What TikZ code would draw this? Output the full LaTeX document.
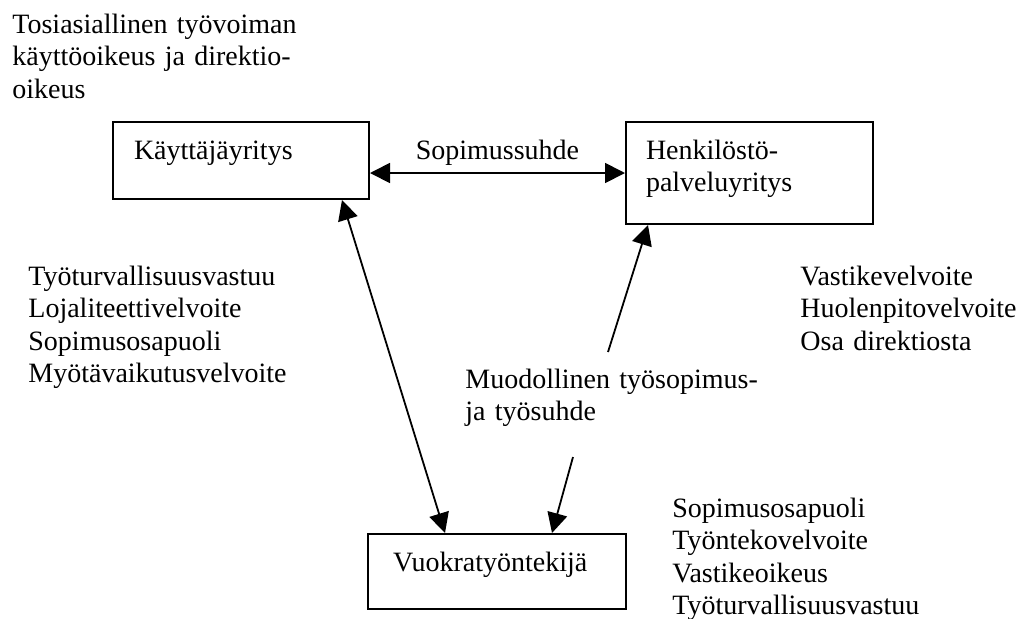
\documentclass[tikz,border=0pt]{standalone}
\usepackage{fontspec}
\setmainfont{Liberation Serif}
\usetikzlibrary{arrows.meta}

\begin{document}
\begin{tikzpicture}[
    x=0.5pt, y=-0.5pt,
    font=\fontsize{14}{16.25}\selectfont,
    laatikko/.style = {draw, line width=1pt, anchor=north west, align=left, inner ysep=0pt, text height=18.5pt},
    teksti/.style = {anchor=base west, align=left, inner sep=0pt, text width=180pt},
    nuoli/.style = {-{Triangle[length=10pt, width=10pt]}, line width=0.9pt},
    kaksi/.style = {{Triangle[length=10pt, width=10pt]}-{Triangle[length=10pt, width=10pt]}, line width=0.9pt}
]
    \useasboundingbox (0,0) rectangle (1024,618);

    % --- Laatikot ---
    \node[laatikko, inner xsep=10.5pt, text width=107pt, text depth=20pt] (K) at (112,121) {Käyttäjäyritys};
    \node[laatikko, inner xsep=10pt, text width=103.5pt, text depth=32.5pt] (H) at (625,121) {Henkilöstö-\\palveluyritys};
    \node[laatikko, inner xsep=12.5pt, text width=104pt, text depth=19pt] (V) at (367,533) {Vuokratyöntekijä};

    % --- Tekstit ---
    \node[teksti] (tosi) at (12,33) {Tosiasiallinen työvoiman\\käyttöoikeus ja direktio-\\oikeus};
    \node[teksti] (kvelv) at (28,285) {Työturvallisuusvastuu\\Lojaliteettivelvoite\\Sopimusosapuoli\\Myötävaikutusvelvoite};
    \node[teksti] (hvelv) at (800,285) {Vastikevelvoite\\Huolenpitovelvoite\\Osa direktiosta};
    \node[teksti] (vvelv) at (672,517) {Sopimusosapuoli\\Työntekovelvoite\\Vastikeoikeus\\Työturvallisuusvastuu};
    \node[teksti] (muod) at (465,388) {Muodollinen työsopimus-\\ja työsuhde};

    % --- Nuolet ---
    \coordinate (m1) at (608,352);
    \coordinate (m2) at (573,457);
    \draw[kaksi] ([yshift=-6.25pt]K.east) -- node[midway, anchor=base, yshift=7pt, inner sep=0pt] (sop) {Sopimussuhde} (H.west);
    \draw[kaksi] ([xshift=-14pt]K.south east) -- ([xshift=39pt]V.north west);
    \draw[nuoli] (m1) -- ([xshift=11.5pt]H.south west);
    \draw[nuoli] (m2) -- ([xshift=92.5pt]V.north west);
\end{tikzpicture}
\end{document}
